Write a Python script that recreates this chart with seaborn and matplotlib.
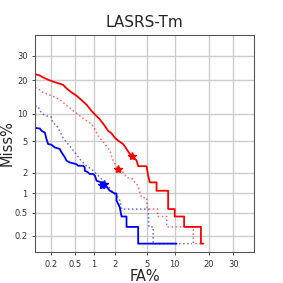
from statistics import NormalDist

import numpy as np
import pandas as pd
import seaborn as sns
import matplotlib
matplotlib.use("Agg")
import matplotlib.pyplot as plt

# DET curves, FA% vs Miss%
red_solid_fa = [0.10, 0.12, 0.14, 0.18, 0.23, 0.32, 0.36, 0.44, 0.53, 0.64, 0.77, 0.91, 1.08, 1.21,
                1.43, 1.6, 1.78, 2.0, 2.2, 2.56, 2.83, 3.12, 3.35, 3.79, 3.97, 4.98, 5.2, 5.44, 6.46,
                6.46, 8.58, 8.58, 10.0, 10.0, 12.3, 12.3, 17.3, 17.3, 18.1]
red_solid_miss = [22.2, 21.8, 21.0, 20.0, 19.2, 18.3, 17.2, 15.8, 14.8, 13.5, 12.2, 10.7, 9.5, 8.8,
                  7.5, 6.6, 6.2, 5.47, 5.1, 4.66, 4.06, 3.52, 3.36, 2.9, 2.45, 2.45, 1.82, 1.46, 1.46,
                  1.10, 1.10, 0.57, 0.57, 0.43, 0.43, 0.286, 0.286, 0.143, 0.143]

red_dot_fa = [0.10, 0.115, 0.139, 0.184, 0.24, 0.295, 0.36, 0.435, 0.56, 0.67, 0.80, 0.92, 1.03, 1.15,
              1.44, 1.69, 1.88, 2.2, 2.56, 2.83, 3.44, 3.6, 3.96, 4.15, 4.35, 4.98, 5.06, 6.63, 6.63,
              8.28, 8.28, 14.9, 14.9, 18.1]
red_dot_miss = [17.4, 16.9, 15.8, 15.0, 14.2, 13.3, 12.1, 11.1, 9.9, 9.0, 8.3, 7.8, 6.9, 5.8,
                4.66, 3.87, 2.89, 2.24, 2.02, 1.72, 1.63, 1.46, 1.31, 1.04, 0.87, 0.86, 0.57, 0.57, 0.43,
                0.43, 0.286, 0.286, 0.143, 0.143]

blue_solid_fa = [0.10, 0.123, 0.132, 0.152, 0.163, 0.174, 0.2, 0.229, 0.28, 0.30, 0.342, 0.365, 0.415,
                 0.53, 0.565, 0.68, 0.72, 0.72, 0.81, 0.86, 0.97, 1.03, 1.09, 1.29, 1.36, 1.5, 1.69,
                 1.98, 2.09, 2.09, 2.31, 2.44, 2.83, 2.83, 3.96, 3.96, 10.4]
blue_solid_miss = [7.1, 7.0, 6.6, 6.3, 5.3, 4.66, 4.57, 4.24, 4.06, 3.69, 3.19, 2.89, 2.74,
                   2.61, 2.48, 2.48, 2.36, 2.13, 2.02, 1.92, 1.92, 1.82, 1.54, 1.46, 1.38, 1.29, 1.10,
                   1.0, 1.0, 0.78, 0.61, 0.43, 0.43, 0.286, 0.286, 0.143, 0.143]

blue_dot_fa = [0.10, 0.115, 0.123, 0.14, 0.163, 0.2, 0.21, 0.25, 0.28, 0.32, 0.40, 0.50, 0.62, 0.74,
               0.83, 0.97, 1.09, 1.22, 1.44, 1.6, 1.79, 1.98, 2.2, 2.31, 2.44, 5.2, 5.3, 5.93, 5.93, 14.5]
blue_dot_miss = [11.9, 11.7, 10.7, 9.9, 9.5, 9.2, 8.1, 7.5, 6.5, 5.47, 4.53, 3.69, 2.95, 2.54,
                 2.36, 2.13, 1.92, 1.72, 1.46, 1.31, 1.10, 0.98, 0.87, 0.78, 0.57, 0.57, 0.286, 0.286,
                 0.143, 0.143]

# EER points (stars)
star_fa = [3.35, 2.2, 1.4, 1.3]
star_miss = [3.3, 2.24, 1.4, 1.32]
star_colors = ["red", "red", "blue", "blue"]

ticks = [0.2, 0.5, 1, 2, 5, 10, 20, 30]
tick_labels = ["0.2", "0.5", "1", "2", "5", "10", "20", "30"]

nd = NormalDist()
_ppf = np.vectorize(nd.inv_cdf, otypes=[float])
_cdf = np.vectorize(nd.cdf, otypes=[float])


def probit(v):
    p = np.clip(np.asarray(v, dtype=float) / 100.0, 1e-9, 1 - 1e-9)
    return _ppf(p)


def inv_probit(z):
    return _cdf(np.asarray(z, dtype=float)) * 100.0


sns.set_style("ticks")
fig, ax = plt.subplots(figsize=(2.83, 2.83), dpi=100)
fig.subplots_adjust(left=0.124, right=0.898, top=0.876, bottom=0.110)

curves = [
    (red_solid_fa, red_solid_miss, "red", "-", 1.3, 1.0),
    (red_dot_fa, red_dot_miss, "red", ":", 1.1, 0.6),
    (blue_solid_fa, blue_solid_miss, "blue", "-", 1.3, 1.0),
    (blue_dot_fa, blue_dot_miss, "blue", ":", 1.1, 0.6),
]
for fa, miss, col, ls, lw, a in curves:
    df = pd.DataFrame({"FA": fa, "Miss": miss})
    sns.lineplot(data=df, x="FA", y="Miss", sort=False, estimator=None,
                 color=col, linestyle=ls, linewidth=lw, alpha=a, ax=ax)

for fx, my, c in zip(star_fa, star_miss, star_colors):
    ax.plot(fx, my, marker="*", color=c, markersize=6, linestyle="none")

ax.set_xscale("function", functions=(probit, inv_probit))
ax.set_yscale("function", functions=(probit, inv_probit))
ax.set_xlim(0.1, 40)
ax.set_ylim(0.1, 40)
ax.set_xticks(ticks)
ax.set_xticklabels(tick_labels)
ax.set_yticks(ticks)
ax.set_yticklabels(tick_labels)
ax.minorticks_off()
ax.tick_params(labelsize=6, length=2, width=0.6, colors="#333333")
ax.grid(True, color="#cccccc", linewidth=1.0)
ax.set_axisbelow(True)
for s in ax.spines.values():
    s.set_color("#555555")
    s.set_linewidth(0.8)

ax.set_title("LASRS-Tm", fontsize=11)
ax.set_xlabel("FA%", fontsize=10.5, labelpad=0)
ax.set_ylabel("Miss%", fontsize=10.5, labelpad=0)

fig.savefig("out.png", dpi=100)
